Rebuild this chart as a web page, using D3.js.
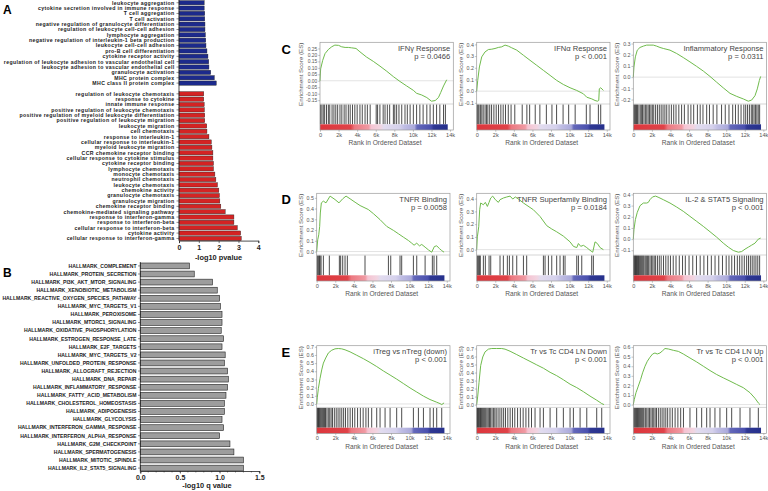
<!DOCTYPE html>
<html>
<head>
<meta charset="utf-8">
<script src="https://cdn.jsdelivr.net/npm/d3@7"></script>
<style>
  body { margin: 0; background: #fff; }
  svg { display: block; font-family: "Liberation Sans", Arial, sans-serif; }
</style>
</head>
<body>
<div id="chart"></div>
<script>
// ---- Panel A: GO terms, -log10 pvalue ----
const blueTerms = [
  "leukocyte aggregation", "cytokine secretion involved in immune response", "T cell aggregation",
  "T cell activation", "negative regulation of granulocyte differentiation",
  "regulation of leukocyte cell-cell adhesion", "lymphocyte aggregation",
  "negative regulation of interleukin-1 beta production", "leukocyte cell-cell adhesion",
  "pro-B cell differentiation", "cytokine receptor activity",
  "regulation of leukocyte adhesion to vascular endothelial cell",
  "leukocyte adhesion to vascular endothelial cell", "granulocyte activation",
  "MHC protein complex", "MHC class II protein complex"
];
const blueValues = [1.27, 1.27, 1.30, 1.30, 1.31, 1.31, 1.33, 1.35, 1.36, 1.41, 1.46, 1.50, 1.51, 1.60, 1.78, 1.88];

const redTerms = [
  "regulation of leukocyte chemotaxis", "response to cytokine", "innate immune response",
  "positive regulation of leukocyte chemotaxis", "positive regulation of myeloid leukocyte differentiation",
  "positive regulation of leukocyte migration", "leukocyte migration", "cell chemotaxis",
  "response to interleukin-1", "cellular response to interleukin-1", "myeloid leukocyte migration",
  "CCR chemokine receptor binding", "cellular response to cytokine stimulus", "cytokine receptor binding",
  "lymphocyte chemotaxis", "monocyte chemotaxis", "neutrophil chemotaxis", "leukocyte chemotaxis",
  "chemokine activity", "granulocyte chemotaxis", "granulocyte migration", "chemokine receptor binding",
  "chemokine-mediated signaling pathway", "response to interferon-gamma", "response to interferon-beta",
  "cellular response to interferon-beta", "cytokine activity", "cellular response to interferon-gamma"
];
const redValues = [1.25, 1.25, 1.27, 1.28, 1.30, 1.30, 1.40, 1.41, 1.51, 1.63, 1.66, 1.71, 1.71, 1.74,
  1.74, 1.81, 1.86, 1.94, 2.01, 2.04, 2.06, 2.11, 2.33, 2.77, 2.77, 2.94, 3.11, 3.14];
const aTicks = [0, 1, 2, 3, 4];

// ---- Panel B: hallmark sets, -log10 q value ----
const hallmarkTerms = [
  "HALLMARK_COMPLEMENT", "HALLMARK_PROTEIN_SECRETION", "HALLMARK_PI3K_AKT_MTOR_SIGNALING",
  "HALLMARK_XENOBIOTIC_METABOLISM", "HALLMARK_REACTIVE_OXYGEN_SPECIES_PATHWAY", "HALLMARK_MYC_TARGETS_V1",
  "HALLMARK_PEROXISOME", "HALLMARK_MTORC1_SIGNALING", "HALLMARK_OXIDATIVE_PHOSPHORYLATION",
  "HALLMARK_ESTROGEN_RESPONSE_LATE", "HALLMARK_E2F_TARGETS", "HALLMARK_MYC_TARGETS_V2",
  "HALLMARK_UNFOLDED_PROTEIN_RESPONSE", "HALLMARK_ALLOGRAFT_REJECTION", "HALLMARK_DNA_REPAIR",
  "HALLMARK_INFLAMMATORY_RESPONSE", "HALLMARK_FATTY_ACID_METABOLISM", "HALLMARK_CHOLESTEROL_HOMEOSTASIS",
  "HALLMARK_ADIPOGENESIS", "HALLMARK_GLYCOLYSIS", "HALLMARK_INTERFERON_GAMMA_RESPONSE",
  "HALLMARK_INTERFERON_ALPHA_RESPONSE", "HALLMARK_G2M_CHECKPOINT", "HALLMARK_SPERMATOGENESIS",
  "HALLMARK_MITOTIC_SPINDLE", "HALLMARK_IL2_STAT5_SIGNALING"
];
const hallmarkValues = [0.62, 0.68, 0.91, 0.97, 1.00, 1.01, 1.03, 1.03, 1.02, 1.05, 1.03, 1.07, 1.06,
  1.10, 1.11, 1.10, 1.08, 1.06, 1.06, 1.03, 1.05, 1.00, 1.13, 1.18, 1.30, 1.30];
const bTicks = [0, 0.5, 1.0, 1.5];

// ---- Panels C-E: GSEA running enrichment score, [rank (thousands), ES] ----
const gseaTitles = ["IFN\u03b3 Response", "IFN\u03b1 Response", "Inflammatory Response",
  "TNFR Binding", "TNFR Superfamily Binding", "IL-2 & STAT5 Signaling",
  "iTreg vs nTreg (down)", "Tr vs Tc CD4 LN Down", "Tr vs Tc CD4 LN Up"];
const gseaPvalues = ["p = 0.0466", "p < 0.001", "p = 0.0311", "p = 0.0058", "p = 0.0184",
  "p < 0.001", "p < 0.001", "p < 0.001", "p < 0.001"];
const rankTicks = [0, 2, 4, 6, 8, 10, 12, 14];

const ifngCurve = [[0, 0], [0.07, 0.092], [0.29, 0.158], [0.54, 0.21], [0.9, 0.242], [1.26, 0.263],
  [1.6, 0.276], [2.0, 0.274], [2.33, 0.263], [2.7, 0.258], [3.05, 0.258], [3.4, 0.255], [3.88, 0.25],
  [4.3, 0.224], [5.0, 0.184], [5.74, 0.15], [6.46, 0.113], [7.18, 0.074], [7.9, 0.032], [8.6, -0.005],
  [9.33, -0.04], [10.05, -0.074], [10.4, -0.097], [10.95, -0.11], [11.5, -0.13], [12.0, -0.158],
  [12.4, -0.153], [12.75, -0.13], [13.0, -0.09], [13.3, -0.04], [13.64, 0.008]];
const ifngHits = [0.05, 0.2, 0.35, 0.5, 0.7, 0.9, 1.05, 1.3, 1.5, 1.7, 1.9, 2.15, 2.35, 2.6, 2.8, 3.05,
  3.25, 3.5, 3.75, 4.0, 4.3, 4.55, 4.85, 5.1, 5.4, 6.05, 6.2, 6.45, 6.8, 7.0, 7.25, 7.5, 7.9, 8.05, 8.25,
  8.5, 8.8, 9.15, 9.4, 9.7, 10.05, 10.4, 10.75, 11.1, 11.5, 11.85, 12.2, 12.55, 12.9, 13.3, 13.5];

const ifnaCurve = [[0, 0], [0.11, 0.092], [0.29, 0.207], [0.54, 0.293], [0.9, 0.336], [1.26, 0.356],
  [1.62, 0.359], [1.97, 0.365], [2.33, 0.374], [2.69, 0.379], [3.05, 0.394], [3.41, 0.385], [3.77, 0.371],
  [4.31, 0.351], [5.03, 0.307], [5.74, 0.264], [6.46, 0.221], [7.18, 0.178], [7.9, 0.135], [8.61, 0.092],
  [9.33, 0.057], [10.05, 0.029], [10.77, 0.006], [11.49, -0.023], [11.85, -0.052], [12.38, -0.066],
  [12.74, -0.08], [12.99, -0.086], [13.14, -0.08], [13.2, 0.02], [13.35, 0.029], [13.64, 0.006]];
const ifnaHits = [0.05, 0.15, 0.25, 0.4, 0.55, 0.7, 0.9, 1.05, 1.2, 1.4, 1.6, 1.85, 2.1, 2.35, 2.6, 2.85,
  3.1, 3.4, 3.7, 4.1, 4.9, 5.4, 5.7, 6.3, 6.8, 7.5, 8.1, 8.6, 9.3, 9.9, 10.6, 11.8, 12.2, 13.1, 13.35];

const inflamCurve = [[0, 0], [0.07, 0.09], [0.22, 0.181], [0.43, 0.241], [0.72, 0.265], [1.08, 0.277],
  [1.44, 0.286], [1.79, 0.286], [2.15, 0.286], [2.51, 0.277], [2.87, 0.265], [3.23, 0.256], [3.95, 0.241],
  [4.67, 0.211], [5.38, 0.175], [6.1, 0.136], [6.82, 0.096], [7.54, 0.054], [8.26, 0.006], [8.97, -0.045],
  [9.69, -0.096], [10.41, -0.145], [11.13, -0.172], [11.85, -0.195], [12.38, -0.215], [12.74, -0.205],
  [13.1, -0.166], [13.35, -0.105], [13.57, -0.03], [13.71, 0.006]];
const inflamHits = [0.05, 0.15, 0.25, 0.35, 0.45, 0.6, 0.75, 0.9, 1.0, 1.15, 1.3, 1.45, 1.6, 1.75, 1.9,
  2.05, 2.2, 2.4, 2.6, 2.8, 3.0, 3.2, 3.4, 3.6, 3.85, 4.1, 4.35, 4.6, 4.9, 5.2, 5.5, 5.9, 6.2, 6.5, 6.9,
  7.2, 7.5, 7.9, 8.2, 8.6, 9.0, 9.5, 9.9, 10.3, 10.7, 11.0, 11.3, 11.6, 11.9, 12.1, 12.3, 12.5, 12.7,
  12.85, 13.0, 13.15, 13.3, 13.45, 13.6];

const tnfrCurve = [[0, 0], [0.11, 0.109], [0.22, 0.156], [0.32, 0.234], [0.39, 0.359], [0.5, 0.453],
  [0.72, 0.469], [1.0, 0.453], [1.44, 0.516], [1.97, 0.484], [2.4, 0.453], [2.8, 0.491], [3.16, 0.516],
  [3.59, 0.491], [4.13, 0.459], [4.67, 0.428], [5.2, 0.406], [5.56, 0.391], [6.1, 0.353], [6.82, 0.297],
  [7.54, 0.234], [8.26, 0.197], [8.79, 0.166], [9.33, 0.134], [9.87, 0.103], [10.23, 0.078],
  [10.48, 0.059], [10.77, 0.078], [11.06, 0.053], [11.31, 0.066], [11.67, 0.041], [12.02, 0.016],
  [12.38, -0.006], [12.67, 0.047], [12.92, 0.053], [13.21, 0.028], [13.46, 0.009], [13.71, -0.006]];
const tnfrHits = [0.07, 0.18, 0.29, 0.36, 0.47, 0.72, 1.36, 2.44, 2.58, 2.8, 3.05, 3.3, 5.2, 7.72, 7.97,
  8.97, 9.15, 10.41, 10.77, 11.67, 12.45, 12.63, 12.92];

const tnfrsfCurve = [[0, 0], [0.07, 0.1], [0.22, 0.18], [0.32, 0.313], [0.43, 0.366], [0.72, 0.352],
  [0.93, 0.371], [1.15, 0.339], [1.33, 0.371], [1.51, 0.405], [1.72, 0.42], [2.01, 0.392], [2.33, 0.371],
  [2.51, 0.392], [2.87, 0.405], [3.23, 0.413], [3.59, 0.42], [3.88, 0.397], [4.16, 0.413], [4.49, 0.397],
  [5.03, 0.366], [6.1, 0.313], [6.82, 0.26], [7.54, 0.188], [8.08, 0.162], [8.61, 0.14], [9.33, 0.106],
  [10.05, 0.061], [10.41, 0.026], [10.77, 0.016], [10.95, 0.048], [11.2, 0.026], [11.49, 0.034],
  [11.85, 0.016], [12.2, -0.005], [12.49, -0.02], [12.74, 0.061], [12.99, 0.048], [13.28, 0.016],
  [13.64, 0]];
const tnfrsfHits = [0.07, 0.18, 0.29, 0.39, 0.72, 0.93, 1.33, 1.51, 2.51, 2.87, 3.3, 3.52, 3.88, 4.31,
  5.03, 5.38, 7.18, 7.36, 7.72, 8.08, 8.61, 8.97, 9.33, 9.51, 10.77, 10.95, 11.31, 12.38, 12.56];

const il2Curve = [[0, 0], [0.07, 0.084], [0.22, 0.174], [0.43, 0.24], [0.72, 0.299], [1.08, 0.323],
  [1.44, 0.323], [1.62, 0.329], [1.79, 0.353], [2.08, 0.378], [2.4, 0.385], [2.76, 0.372], [3.23, 0.353],
  [3.95, 0.323], [4.67, 0.287], [5.38, 0.249], [6.1, 0.204], [6.82, 0.159], [7.54, 0.114], [8.26, 0.066],
  [8.97, 0.018], [9.69, -0.036], [10.23, -0.072], [10.77, -0.102], [11.31, -0.117], [11.67, -0.111],
  [12.02, -0.09], [12.38, -0.072], [12.74, -0.054], [13.1, -0.036], [13.46, 0], [13.71, 0.009]];
const il2Hits = [0.03, 0.1, 0.18, 0.25, 0.33, 0.4, 0.48, 0.55, 0.65, 0.75, 0.85, 0.95, 1.05, 1.15, 1.28,
  1.4, 1.52, 1.65, 1.8, 1.95, 2.1, 2.25, 2.4, 2.6, 2.8, 3.0, 3.25, 3.5, 3.75, 4.0, 4.3, 4.6, 4.95, 5.3,
  5.6, 6.0, 6.4, 6.8, 7.2, 7.6, 8.0, 8.4, 8.8, 9.2, 9.6, 10.0, 10.3, 10.6, 10.9, 11.2, 11.45, 11.7, 11.95,
  12.2, 12.4, 12.6, 12.8, 13.0, 13.2, 13.4, 13.6];

const itregCurve = [[0, 0], [0.07, 0.083], [0.18, 0.188], [0.36, 0.313], [0.54, 0.417], [0.72, 0.5],
  [0.97, 0.563], [1.26, 0.625], [1.62, 0.658], [1.97, 0.675], [2.33, 0.679], [2.69, 0.675], [3.05, 0.663],
  [3.59, 0.638], [4.31, 0.596], [5.03, 0.554], [5.74, 0.508], [6.46, 0.458], [7.18, 0.404], [7.9, 0.354],
  [8.61, 0.304], [9.33, 0.25], [10.05, 0.196], [10.77, 0.146], [11.49, 0.096], [12.2, 0.054],
  [12.92, 0.021], [13.28, 0.004], [13.46, -0.008], [13.71, 0.013]];
const itregHits = [0.05, 0.12, 0.2, 0.28, 0.36, 0.45, 0.55, 0.65, 0.75, 0.85, 0.95, 1.1, 1.25, 1.4, 1.55,
  1.7, 1.9, 2.1, 2.3, 2.5, 2.7, 2.9, 3.1, 3.35, 3.6, 3.85, 4.1, 4.4, 4.7, 5.0, 5.3, 5.56, 5.92, 6.46,
  6.82, 7.36, 7.9, 8.61, 9.15, 10.41, 10.95, 11.49, 12.2, 12.56, 12.92, 13.46];

const tcDownCurve = [[0, 0], [0.11, 0.106], [0.25, 0.276], [0.43, 0.488], [0.65, 0.594], [0.9, 0.658],
  [1.26, 0.692], [1.62, 0.7], [2.15, 0.7], [2.69, 0.7], [3.05, 0.692], [3.59, 0.666], [4.31, 0.624],
  [5.03, 0.581], [5.74, 0.539], [6.46, 0.496], [7.18, 0.454], [7.9, 0.403], [8.61, 0.361], [9.33, 0.31],
  [10.05, 0.255], [10.77, 0.212], [11.49, 0.161], [12.2, 0.106], [12.92, 0.055], [13.46, 0.013],
  [13.71, 0]];
const tcDownHits = [0.03, 0.1, 0.18, 0.26, 0.34, 0.42, 0.5, 0.6, 0.7, 0.8, 0.9, 1.0, 1.12, 1.25, 1.38, 1.5,
  1.65, 1.8, 1.95, 2.1, 2.3, 2.5, 2.7, 2.9, 3.1, 3.35, 3.6, 3.85, 4.1, 4.4, 4.7, 5.0, 5.3, 5.6, 5.9,
  6.28, 6.82, 7.18, 7.9, 8.61, 9.33, 10.05, 10.41, 11.13, 11.85, 12.92, 13.46];

const tcUpCurve = [[0, 0], [0.11, 0.055], [0.29, 0.124], [0.54, 0.193], [0.79, 0.262], [1.0, 0.331],
  [1.26, 0.4], [1.51, 0.452], [1.79, 0.493], [2.08, 0.528], [2.33, 0.538], [2.58, 0.528], [2.87, 0.538],
  [3.16, 0.562], [3.41, 0.585], [3.77, 0.58], [4.31, 0.566], [4.85, 0.555], [5.38, 0.528], [6.1, 0.486],
  [6.82, 0.445], [7.54, 0.4], [8.26, 0.355], [8.97, 0.314], [9.69, 0.279], [10.41, 0.245], [11.13, 0.21],
  [11.85, 0.176], [12.56, 0.124], [13.1, 0.066], [13.46, 0.017], [13.64, 0]];
const tcUpHits = [0.05, 0.15, 0.25, 0.35, 0.45, 0.55, 0.65, 0.75, 0.85, 0.95, 1.05, 1.15, 1.3, 1.45, 1.6,
  1.75, 1.9, 2.05, 2.2, 2.35, 2.5, 2.7, 2.9, 3.1, 3.3, 3.5, 3.7, 3.95, 4.2, 4.5, 4.8, 5.1, 5.4, 6.1, 6.82,
  7.36, 7.9, 8.26, 8.79, 9.33, 10.05, 10.59, 11.49, 12.56, 13.46];

// ---- layout ----
const W = 768, H = 491;
const svg = d3.select("#chart").append("svg").attr("width", W).attr("height", H);
const fmt = d3.formatLocale({ decimal: ".", thousands: ",", grouping: [3], currency: ["", ""], minus: "-" });
const FONT = "Liberation Sans, Arial, sans-serif";

function panelLetter(txt, x, y, size) {
  svg.append("text").attr("x", x).attr("y", y).attr("font-size", size)
    .attr("font-weight", "bold").text(txt);
}

// ---- Panel A ----
const aX = d3.scaleLinear().domain([0, 4]).range([179, 258.3]);
const aY = d3.scaleBand().domain([...blueTerms, "__gap__", ...redTerms]).range([0.6, 240.6]).paddingInner(0.2);
const aBars = blueTerms.map((t, i) => ({ term: t, value: blueValues[i], fill: "#1c2a8c" }))
  .concat(redTerms.map((t, i) => ({ term: t, value: redValues[i], fill: "#d42323" })));

const gA = svg.append("g");
gA.selectAll("rect").data(aBars).join("rect")
  .attr("x", aX(0))
  .attr("y", (d) => aY(d.term))
  .attr("width", (d) => aX(d.value) - aX(0))
  .attr("height", aY.bandwidth())
  .attr("fill", (d) => d.fill)
  .attr("stroke", "#222").attr("stroke-width", 0.4);

// labels: small glyphs spaced out a little so rows do not collide
gA.selectAll(".lab").data(aBars).join("text")
  .attr("x", 174.5)
  .attr("y", (d) => aY(d.term) + aY.bandwidth() / 2)
  .attr("dy", "0.36em")
  .attr("text-anchor", "end")
  .attr("font-size", 5.2).attr("font-weight", "bold").attr("fill", "#1a1a1a")
  .attr("letter-spacing", 0.36)
  .text((d) => d.term);

gA.selectAll(".tk").data(aBars).join("line")
  .attr("x1", 176.5).attr("x2", aX(0))
  .attr("y1", (d) => aY(d.term) + aY.bandwidth() / 2)
  .attr("y2", (d) => aY(d.term) + aY.bandwidth() / 2)
  .attr("stroke", "#222").attr("stroke-width", 0.5);
gA.append("line").attr("x1", aX(0)).attr("x2", aX(0)).attr("y1", 0).attr("y2", 240.6)
  .attr("stroke", "#222").attr("stroke-width", 0.8);

const axA = gA.append("g").attr("transform", "translate(0,240.6)")
  .call(d3.axisBottom(aX).tickValues(aTicks).tickFormat(d3.format("d")).tickSize(2.5).tickPadding(1.5));
axA.select(".domain").attr("stroke", "#222").attr("stroke-width", 0.8);
axA.selectAll("line").attr("stroke", "#222").attr("stroke-width", 0.6);
axA.selectAll("text").attr("font-size", 7).attr("font-weight", "bold").attr("fill", "#222")
  .attr("font-family", FONT);
gA.append("text").attr("x", 218.5).attr("y", 259.5).attr("text-anchor", "middle")
  .attr("font-size", 7.4).attr("font-weight", "bold").attr("fill", "#222").text("-log10 pvalue");
panelLetter("A", 3, 14, 12);

// ---- Panel B ----
const bX = d3.scaleLinear().domain([0, 1.5]).range([140.3, 259.3]);
const bY = d3.scaleBand().domain(hallmarkTerms).range([263, 471]).paddingInner(0.28);
const gB = svg.append("g");
gB.selectAll("rect").data(hallmarkTerms).join("rect")
  .attr("x", bX(0))
  .attr("y", (d) => bY(d))
  .attr("width", (d, i) => bX(hallmarkValues[i]) - bX(0))
  .attr("height", bY.bandwidth())
  .attr("fill", "#9d9d9d")
  .attr("stroke", "#222").attr("stroke-width", 0.6);
gB.selectAll(".lab").data(hallmarkTerms).join("text")
  .attr("x", 136.5)
  .attr("y", (d) => bY(d) + bY.bandwidth() / 2)
  .attr("dy", "0.36em")
  .attr("text-anchor", "end")
  .attr("font-size", 5.1).attr("font-weight", "bold").attr("fill", "#222")
  .text((d) => d);
gB.selectAll(".tk").data(hallmarkTerms).join("line")
  .attr("x1", 138).attr("x2", bX(0))
  .attr("y1", (d) => bY(d) + bY.bandwidth() / 2)
  .attr("y2", (d) => bY(d) + bY.bandwidth() / 2)
  .attr("stroke", "#222").attr("stroke-width", 0.5);
gB.append("line").attr("x1", bX(0)).attr("x2", bX(0)).attr("y1", 262).attr("y2", 471)
  .attr("stroke", "#222").attr("stroke-width", 0.8);

const axB = gB.append("g").attr("transform", "translate(0,471)")
  .call(d3.axisBottom(bX).tickValues(bTicks).tickFormat(d3.format(".1f")).tickSize(2.5).tickPadding(1.5));
axB.select(".domain").attr("stroke", "#222").attr("stroke-width", 0.8);
axB.selectAll("line").attr("stroke", "#222").attr("stroke-width", 0.6);
axB.selectAll("text").attr("font-size", 7).attr("font-weight", "bold").attr("fill", "#222")
  .attr("font-family", FONT);
// minor ticks
gB.append("g").selectAll("line").data(d3.range(0, 1.51, 0.1)).join("line")
  .attr("x1", (d) => bX(d)).attr("x2", (d) => bX(d))
  .attr("y1", 471).attr("y2", 472.5)
  .attr("stroke", "#222").attr("stroke-width", 0.5);
gB.append("text").attr("x", 207).attr("y", 488).attr("text-anchor", "middle")
  .attr("font-size", 7.4).attr("font-weight", "bold").attr("fill", "#222").text("-log10 q value");
panelLetter("B", 3, 277, 12);

// ---- Panels C-E: GSEA plots ----
const defs = svg.append("defs");
const grad = defs.append("linearGradient").attr("id", "rankGrad");
[[0, "#dc363c"], [0.24, "#e04248"], [0.27, "#ec7880"], [0.38, "#f09aa3"], [0.4, "#f5c4d2"],
 [0.47, "#f2d4e0"], [0.5, "#e2dcef"], [0.62, "#d5d1ec"], [0.66, "#c0bee4"], [0.74, "#aaa9db"],
 [0.76, "#6468ba"], [0.87, "#4a50ae"], [0.89, "#2f3893"], [1, "#26308c"]]
  .forEach(([o, c]) => grad.append("stop").attr("offset", o).attr("stop-color", c));

const boxW = 133.3, boxH = 87.7, esH = 61.7, hitH = 20.3;
const rowTops = [42.3, 193.3, 345.7];
const colLefts = [316.7, 476.7, 633.3];
const gseaPlots = [
  { curve: ifngCurve, hits: ifngHits, ticks: 10, fmt: ".2f", shift: 3.3 },
  { curve: ifnaCurve, hits: ifnaHits, ticks: 6, fmt: ".1f", shift: 0 },
  { curve: inflamCurve, hits: inflamHits, ticks: 6, fmt: ".1f", shift: 0 },
  { curve: tnfrCurve, hits: tnfrHits, ticks: 6, fmt: ".1f", shift: 0 },
  { curve: tnfrsfCurve, hits: tnfrsfHits, ticks: 6, fmt: ".1f", shift: 0 },
  { curve: il2Curve, hits: il2Hits, ticks: 6, fmt: ".1f", shift: 0 },
  { curve: itregCurve, hits: itregHits, ticks: 6, fmt: ".1f", shift: 0 },
  { curve: tcDownCurve, hits: tcDownHits, ticks: 6, fmt: ".1f", shift: 0 },
  { curve: tcUpCurve, hits: tcUpHits, ticks: 6, fmt: ".1f", shift: 0 },
].map((d, i) => ({ ...d, title: gseaTitles[i], p: gseaPvalues[i], row: Math.floor(i / 3), col: i % 3 }));

function drawGsea(d) {
  const g = svg.append("g")
    .attr("transform", `translate(${colLefts[d.col] + d.shift},${rowTops[d.row]})`);
  const x = d3.scaleLinear().domain([0, 14.35]).range([0, boxW]);
  const [lo, hi] = d3.extent(d.curve, (p) => p[1]);
  const pad = (hi - lo) * 0.05;
  const y = d3.scaleLinear().domain([lo - pad, hi + pad]).range([esH, 0]);

  // zero line
  g.append("line").attr("x1", 0).attr("x2", boxW).attr("y1", y(0)).attr("y2", y(0))
    .attr("stroke", "#cfcfcf").attr("stroke-width", 0.6);

  // running enrichment score
  g.append("path").datum(d.curve)
    .attr("d", d3.line().x((p) => x(p[0])).y((p) => y(p[1])))
    .attr("fill", "none").attr("stroke", "#6fbb4c").attr("stroke-width", 1);

  // hit positions
  g.append("g").selectAll("line").data(d.hits).join("line")
    .attr("x1", (r) => x(r)).attr("x2", (r) => x(r))
    .attr("y1", esH + 0.5).attr("y2", esH + hitH)
    .attr("stroke", "#111").attr("stroke-width", 1).attr("stroke-opacity", 0.75);

  // ranked list colour bar
  g.append("rect").attr("x", x(0)).attr("y", esH + hitH)
    .attr("width", x(13.75) - x(0)).attr("height", boxH - esH - hitH)
    .attr("fill", "url(#rankGrad)");

  // separators and frame
  g.append("line").attr("x1", 0).attr("x2", boxW).attr("y1", esH).attr("y2", esH)
    .attr("stroke", "#a8a8a8").attr("stroke-width", 0.5);
  g.append("rect").attr("width", boxW).attr("height", boxH)
    .attr("fill", "none").attr("stroke", "#9a9a9a").attr("stroke-width", 0.7);

  // y axis
  const ay = g.append("g")
    .call(d3.axisLeft(y).ticks(d.ticks).tickFormat(fmt.format(d.fmt)).tickSize(1.8).tickPadding(1));
  ay.select(".domain").remove();
  ay.selectAll("line").attr("stroke", "#888").attr("stroke-width", 0.5);
  ay.selectAll("text").attr("font-size", d.ticks > 6 ? 4.9 : 5.3).attr("fill", "#555")
    .attr("font-family", FONT);

  // x axis
  const ax = g.append("g").attr("transform", `translate(0,${boxH})`)
    .call(d3.axisBottom(x).tickValues(rankTicks).tickFormat((t) => (t === 0 ? "0" : t + "k"))
      .tickSize(1.8).tickPadding(1));
  ax.select(".domain").remove();
  ax.selectAll("line").attr("stroke", "#888").attr("stroke-width", 0.5);
  ax.selectAll("text").attr("font-size", 5.6).attr("fill", "#555")
    .attr("font-family", FONT);

  g.append("text").attr("x", x(7)).attr("y", boxH + 15.3).attr("text-anchor", "middle")
    .attr("font-size", 6.6).attr("fill", "#555").text("Rank in Ordered Dataset");
  g.append("text")
    .attr("transform", `translate(${-16.2 - d.shift},${32}) rotate(-90)`)
    .attr("text-anchor", "middle").attr("dy", "0.35em")
    .attr("font-size", 6.2).attr("fill", "#555").text("Enrichment Score (ES)");

  // gene set name and p value
  g.append("text").attr("x", boxW - 3).attr("y", 8.5).attr("text-anchor", "end")
    .attr("font-size", 7.6).attr("fill", "#444").text(d.title);
  g.append("text").attr("x", boxW - 3).attr("y", 16.8).attr("text-anchor", "end")
    .attr("font-size", 7.6).attr("fill", "#444").text(d.p);
}
gseaPlots.forEach(drawGsea);

panelLetter("C", 281.5, 53.5, 13);
panelLetter("D", 281.5, 204, 13);
panelLetter("E", 281.5, 357, 13);
</script>
</body>
</html>
